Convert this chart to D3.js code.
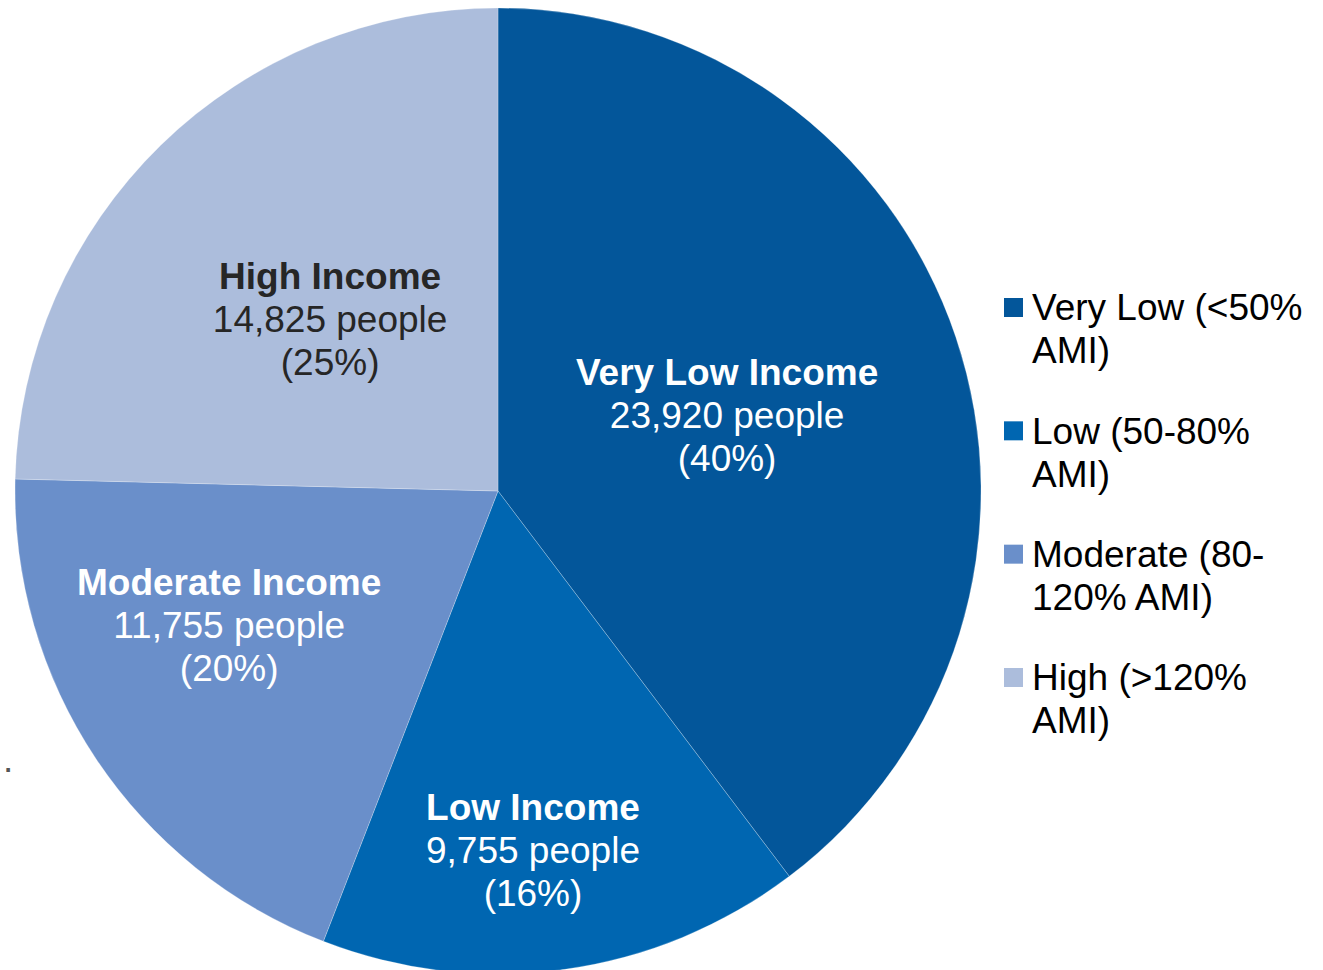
<!DOCTYPE html>
<html>
<head>
<meta charset="utf-8">
<script src="https://cdn.jsdelivr.net/npm/d3@7"></script>
<style>
  html, body { margin: 0; padding: 0; background: #fff; }
  svg { display: block; }
  text { font-family: "Liberation Sans", Arial, sans-serif; }
</style>
</head>
<body>
<svg id="chart" width="1323" height="970"></svg>
<script>
// ---- data ----
const categories = ["Very Low Income", "Low Income", "Moderate Income", "High Income"];
const people = [23920, 9755, 11755, 14825];
const percentLabels = ["(40%)", "(16%)", "(20%)", "(25%)"];
const legendLabels = [["Very Low (<50%", "AMI)"], ["Low (50-80%", "AMI)"], ["Moderate (80-", "120% AMI)"], ["High (>120%", "AMI)"]];
const colors = ["#03569a", "#0066b1", "#6a8fca", "#acbddc"];
const labelColors = ["#ffffff", "#ffffff", "#ffffff", "#262626"];

// ---- layout ----
const svg = d3.select("#chart");
const cx = 498, cy = 491, R = 483;
const fontSize = 37, lineH = 43;

const pie = d3.pie().sort(null).value(d => d)
  .startAngle(0).endAngle(2 * Math.PI);
const arcs = pie(people);
const arc = d3.arc().innerRadius(0).outerRadius(R);

const g = svg.append("g").attr("transform", `translate(${cx},${cy})`);
g.selectAll("path.slice").data(arcs).join("path")
  .attr("class", "slice")
  .attr("d", arc)
  .attr("fill", (d, i) => colors[i])
  .attr("stroke", "#ffffff")
  .attr("stroke-opacity", 0.4)
  .attr("stroke-width", 0.6);

// label placement (radius fraction, angle nudge in degrees) - Excel best-fit style
const labelPlace = [[0.499, 0.45], [0.749, 2.4], [0.623, 7.0], [0.496, -0.2]];
const fmt = d3.format(",");
arcs.forEach((d, i) => {
  const mid = (d.startAngle + d.endAngle) / 2 + labelPlace[i][1] * Math.PI / 180;
  const r = R * labelPlace[i][0];
  const x = r * Math.sin(mid), y = -r * Math.cos(mid);
  const t = g.append("text")
    .attr("text-anchor", "middle")
    .attr("fill", labelColors[i])
    .attr("font-size", fontSize);
  const lines = [categories[i], fmt(people[i]) + " people", percentLabels[i]];
  lines.forEach((ln, k) => {
    t.append("tspan")
      .attr("x", x)
      .attr("y", y + (k - 1) * lineH + fontSize * 0.32)
      .attr("font-weight", k === 0 ? "bold" : "normal")
      .text(ln);
  });
});

// legend
const legend = svg.append("g").attr("transform", "translate(1004,0)");
const legendY = d3.scalePoint().domain(d3.range(categories.length)).range([308, 678]);
legendLabels.forEach((lines, i) => {
  const y0 = legendY(i);
  legend.append("rect")
    .attr("x", 0).attr("y", y0 - 10)
    .attr("width", 19).attr("height", 19)
    .attr("fill", colors[i]);
  const t = legend.append("text").attr("font-size", fontSize).attr("fill", "#000");
  lines.forEach((ln, k) => {
    t.append("tspan").attr("x", 28).attr("y", y0 + k * lineH + fontSize * 0.33).text(ln);
  });
});

// stray cropped-text fragment at left edge
svg.append("text").attr("x", 3).attr("y", 772).attr("font-size", fontSize).attr("fill", "#555").text(".");
</script>
</body>
</html>
